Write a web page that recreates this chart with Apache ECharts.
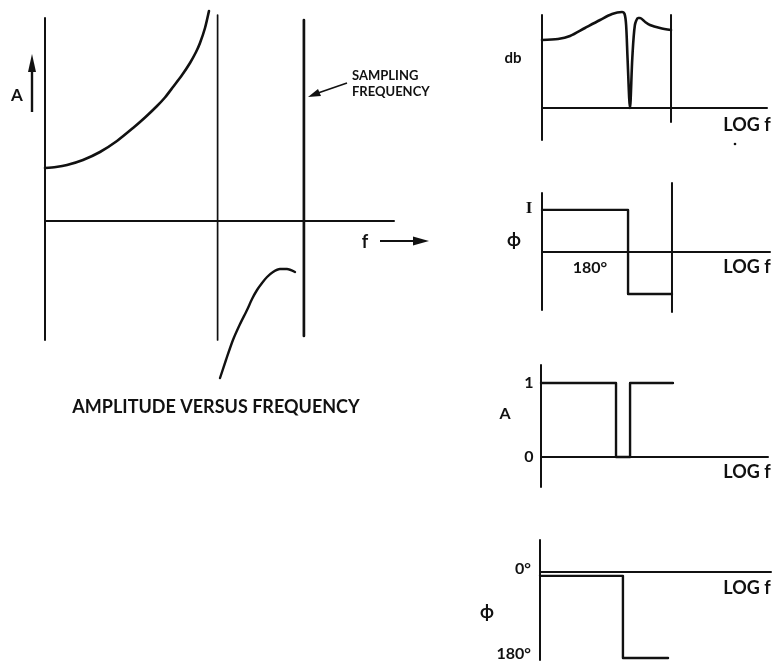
<!DOCTYPE html>
<html>
<head>
<meta charset="utf-8">
<script src="https://cdn.jsdelivr.net/npm/echarts@6/dist/echarts.min.js"></script>
<style>
  html, body { margin: 0; padding: 0; background: #ffffff; }
  #chart { width: 781px; height: 664px; }
</style>
</head>
<body>
<div id="chart"></div>
<script>
// ---- Amplitude versus frequency (f in units where the sampling frequency is 3) ----
const ampBelowHalf = [[0, 1.06], [0.127, 1.08], [0.255, 1.12], [0.44, 1.22], [0.637, 1.38],
                      [0.834, 1.60], [1.02, 1.86], [1.159, 2.07], [1.298, 2.30], [1.39, 2.47],
                      [1.483, 2.68], [1.588, 2.92], [1.68, 3.16], [1.75, 3.38], [1.796, 3.56],
                      [1.854, 3.86], [1.90, 4.20]];
const ampAboveHalf = [[2.028, -3.14], [2.097, -2.78], [2.178, -2.38], [2.26, -2.06], [2.341, -1.78],
                      [2.399, -1.56], [2.457, -1.38], [2.515, -1.24], [2.573, -1.12], [2.642, -1.02],
                      [2.723, -0.96], [2.804, -0.96], [2.897, -1.02]];
// vertical markers: frequency, lower end, upper end
const ampMarkers = [[0, -2.38, 4.06], [2, -2.38, 4.12], [3, -2.30, 4.02]];

// ---- Magnitude (db) versus log f; band edge at log f = 1 ----
const dbCurve = [[0, 6.8], [0.124, 6.9], [0.217, 7.2], [0.333, 8.0], [0.45, 8.8], [0.543, 9.4],
                 [0.62, 9.6], [0.64, 9.4], [0.652, 8.3], [0.663, 5.0], [0.682, 0.0],
                 [0.70, 5.0], [0.72, 8.3], [0.745, 9.0], [0.76, 9.0], [0.80, 8.6],
                 [0.837, 8.3], [0.915, 8.0], [1.0, 7.8]];
const dbMarkers = [[0, -3.2, 9.3], [1, -1.4, 9.3]];

// ---- Phase, first network ----
const phaseA = [[0, 1], [0.662, 1], [0.662, -1], [1, -1]];
const phaseAMarkers = [[0, -1.38, 1.40], [1, -1.43, 1.64]];

// ---- Amplitude, ideal notch ----
const ampNotch = [[0, 1], [0.577, 1], [0.577, 0], [0.685, 0], [0.685, 1], [1.015, 1]];
const ampNotchMarkers = [[0, -0.405, 1.243]];

// ---- Phase, second network (degrees) ----
const phaseB = [[0, -8], [0.638, -8], [0.638, -180], [0.985, -180]];
const phaseBMarkers = [[0, -184, 67]];

const INK = '#111111';
const FONT = 'Lato, "Open Sans", sans-serif';

// panel layout in pixels and axis ranges
const panels = [
  { left: 45,  top: 0,   width: 349, height: 381, xMax: 4.044, yMin: -3.2,  yMax: 4.42 },
  { left: 542, top: 8,   width: 225, height: 132, xMax: 1.744, yMin: -3.2,  yMax: 10 },
  { left: 542, top: 183, width: 228, height: 129, xMax: 1.754, yMin: -1.43, yMax: 1.64 },
  { left: 541, top: 365, width: 227, height: 122, xMax: 1.746, yMin: -0.405, yMax: 1.243 },
  { left: 540, top: 540, width: 231, height: 120, xMax: 1.777, yMin: -184.2, yMax: 67 }
];

const grid = panels.map(p => ({ left: p.left, top: p.top, width: p.width, height: p.height, containLabel: false }));
const xAxis = panels.map((p, i) => ({
  type: 'value', gridIndex: i, min: 0, max: p.xMax,
  axisLine: { show: true, onZero: true, lineStyle: { color: INK, width: 2 } },
  axisTick: { show: false }, axisLabel: { show: false }, splitLine: { show: false }
}));
const yAxis = panels.map((p, i) => ({
  type: 'value', gridIndex: i, min: p.yMin, max: p.yMax, show: false, splitLine: { show: false }
}));

function curve(data, idx, width, smooth) {
  return {
    type: 'line', data: data, xAxisIndex: idx, yAxisIndex: idx,
    symbol: 'none', smooth: smooth || false, silent: true, clip: false,
    lineStyle: { color: INK, width: width, join: 'round', cap: 'round' }
  };
}
function markers(list, idx, widths) {
  return list.map((m, k) => curve([[m[0], m[1]], [m[0], m[2]]], idx, widths[k] || 2));
}

const series = [
  ...markers(ampMarkers, 0, [2, 1.7, 2.7]),
  curve(ampBelowHalf, 0, 2.6, 0.25),
  curve(ampAboveHalf, 0, 2.4, 0.25),
  ...markers(dbMarkers, 1, [2, 2]),
  curve(dbCurve, 1, 2.6, 0.3),
  ...markers(phaseAMarkers, 2, [2, 2]),
  curve(phaseA, 2, 2.4),
  ...markers(ampNotchMarkers, 3, [2]),
  curve(ampNotch, 3, 2.4),
  ...markers(phaseBMarkers, 4, [2]),
  curve(phaseB, 4, 2.4)
];

function text(str, x, y, size, opts) {
  return {
    type: 'text', x: x, y: y, silent: true,
    style: Object.assign({
      text: str, fill: INK, font: 'bold ' + size + 'px ' + FONT,
      textAlign: 'center', textVerticalAlign: 'middle'
    }, opts || {})
  };
}
function line(x1, y1, x2, y2, w) {
  return { type: 'line', silent: true, shape: { x1, y1, x2, y2 }, style: { stroke: INK, lineWidth: w || 2 } };
}
function head(points) {
  return { type: 'polygon', silent: true, shape: { points: points }, style: { fill: INK } };
}

const graphic = [
  // axis annotations, amplitude panel
  text('A', 17, 96, 17),
  line(32, 112, 32, 66, 2.4),
  head([[32, 54], [28, 72], [36, 72]]),
  text('SAMPLING', 352, 76, 13, { textAlign: 'left' }),
  text('FREQUENCY', 352, 92, 13, { textAlign: 'left' }),
  line(347, 83, 318, 93, 1.6),
  head([[308, 97], [318, 89], [321, 96]]),
  text('f', 365, 242, 18),
  line(380, 241, 418, 241, 1.8),
  head([[429, 241], [413, 236.5], [413, 245.5]]),
  text('AMPLITUDE VERSUS FREQUENCY', 216, 407, 18),
  // db panel
  text('db', 513, 58, 15),
  text('LOG f', 747, 125, 18),
  { type: 'circle', silent: true, shape: { cx: 735, cy: 144, r: 1.3 }, style: { fill: INK } },
  // phase panel
  text('I', 529, 209, 17, { font: 'bold 17px "Liberation Serif", serif' }),
  text('ϕ', 514, 240, 18),
  text('180°', 590, 268, 16),
  text('LOG f', 747, 267, 18),
  // notch panel
  text('1', 529, 383, 16),
  text('0', 529, 457, 16),
  text('A', 505, 414, 16),
  text('LOG f', 747, 472, 18),
  // second phase panel
  text('0°', 531, 569, 16, { textAlign: 'right' }),
  text('ϕ', 487, 612, 18),
  text('180°', 531, 654, 16, { textAlign: 'right' }),
  text('LOG f', 747, 588, 18)
];

const chart = echarts.init(document.getElementById('chart'), null, { renderer: 'canvas' });
chart.setOption({
  backgroundColor: '#ffffff',
  animation: false,
  grid: grid,
  xAxis: xAxis,
  yAxis: yAxis,
  series: series,
  graphic: graphic
});
</script>
</body>
</html>
